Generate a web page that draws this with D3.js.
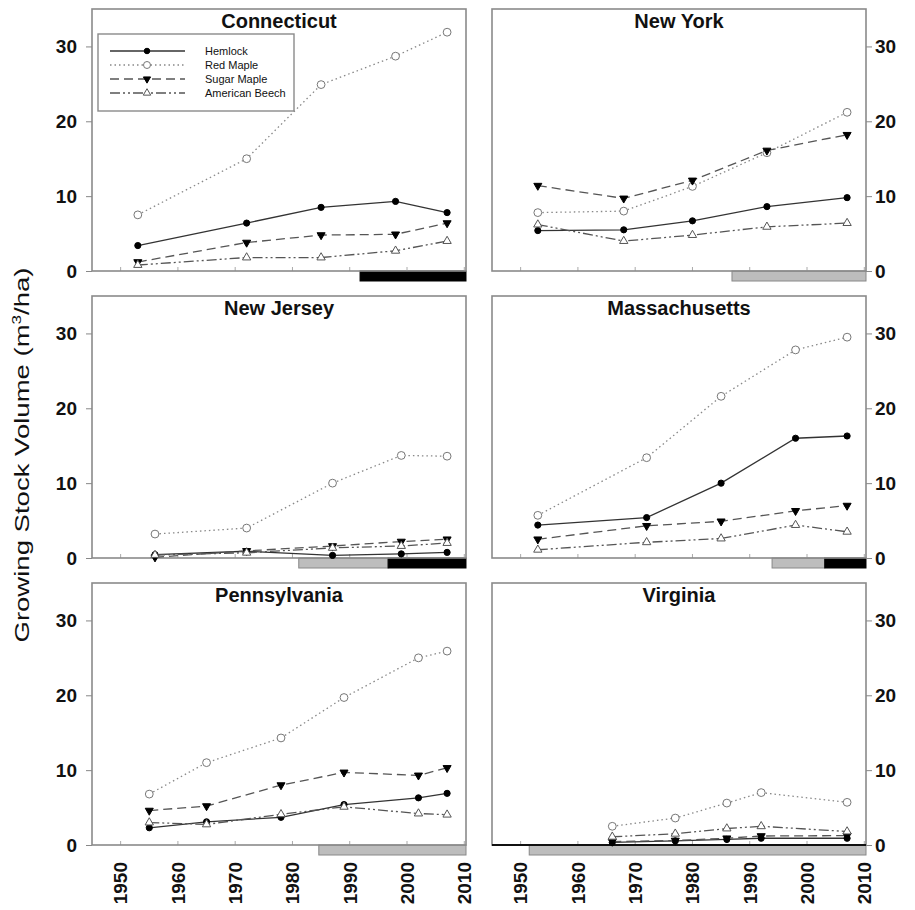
<!DOCTYPE html>
<html>
<head>
<meta charset="utf-8">
<script src="https://cdn.jsdelivr.net/npm/d3@7"></script>
<style>
  body { margin: 0; background: #fff; }
  text { font-family: "Liberation Sans", Arial, sans-serif; }
</style>
</head>
<body>
<div id="my_datavis"></div>
<script>
// data
var states = ["Connecticut", "New York", "New Jersey", "Massachusetts", "Pennsylvania", "Virginia"];
var species = ["Hemlock", "Red Maple", "Sugar Maple", "American Beech"];

var surveyYears = [
  [1953, 1972, 1985, 1998, 2007],
  [1953, 1968, 1980, 1993, 2007],
  [1956, 1972, 1987, 1999, 2007],
  [1953, 1972, 1985, 1998, 2007],
  [1955, 1965, 1978, 1989, 2002, 2007],
  [1966, 1977, 1986, 1992, 2007]
];
var hemlock = [
  [3.4, 6.4, 8.5, 9.3, 7.8],
  [5.4, 5.5, 6.7, 8.6, 9.8],
  [0.45, 0.9, 0.35, 0.55, 0.75],
  [4.4, 5.4, 10.0, 16.0, 16.3],
  [2.3, 3.1, 3.7, 5.4, 6.3, 6.9],
  [0.35, 0.55, 0.75, 0.9, 0.9]
];
var redMaple = [
  [7.5, 15.0, 24.9, 28.7, 31.9],
  [7.8, 8.0, 11.3, 15.8, 21.2],
  [3.2, 4.0, 10.0, 13.7, 13.6],
  [5.7, 13.4, 21.6, 27.8, 29.5],
  [6.8, 11.0, 14.3, 19.7, 25.0, 25.9],
  [2.5, 3.6, 5.6, 7.0, 5.7]
];
var sugarMaple = [
  [1.2, 3.8, 4.8, 4.9, 6.4],
  [11.4, 9.7, 12.1, 16.1, 18.2],
  [0.1, 0.95, 1.6, 2.2, 2.5],
  [2.5, 4.3, 4.9, 6.3, 7.0],
  [4.6, 5.2, 8.0, 9.7, 9.3, 10.3],
  [0.45, 0.6, 0.9, 1.2, 1.25]
];
var beech = [
  [0.8, 1.8, 1.8, 2.7, 4.0],
  [6.2, 4.0, 4.8, 5.9, 6.4],
  [0.4, 0.7, 1.35, 1.6, 2.0],
  [1.1, 2.1, 2.6, 4.4, 3.5],
  [3.0, 2.75, 4.1, 5.1, 4.2, 4.05],
  [1.1, 1.5, 2.2, 2.5, 1.8]
];
// shaded periods under each panel: [shade, start year, end year]
var periods = [
  [["black", 1991.8, 2010.3]],
  [["gray", 1986.9, 2010.3]],
  [["gray", 1981.1, 1996.7], ["black", 1996.7, 2010.3]],
  [["gray", 1993.9, 2003.1], ["black", 2003.1, 2010.3]],
  [["gray", 1984.6, 2010.3]],
  [["gray", 1951.5, 2010.3]]
];
var yTicks = [0, 10, 20, 30];
var xTicks = [1950, 1960, 1970, 1980, 1990, 2000, 2010];

var seriesValues = [hemlock, redMaple, sugarMaple, beech];

var width = 915, height = 910;
var pw = 374, ph = 262;
var colX = [92, 492], rowY = [9, 296, 583];

var svg = d3.select("#my_datavis")
  .append("svg")
  .attr("width", width)
  .attr("height", height);

var x = d3.scaleLinear().domain([1945, 2010.3]).range([0, pw]);
var y = d3.scaleLinear().domain([0, 35]).range([ph, 0]);

// line look for each species
var styles = [
  { stroke: "#333", dash: null, width: 1.3, symbol: d3.symbolCircle, size: 30, fill: "#000", mstroke: "#000" },
  { stroke: "#888", dash: "1.5,3", width: 1.3, symbol: d3.symbolCircle, size: 48, fill: "#fff", mstroke: "#777" },
  { stroke: "#555", dash: "9,5", width: 1.3, symbol: d3.symbolTriangle, size: 28, fill: "#000", mstroke: "#000", rot: 180 },
  { stroke: "#555", dash: "10,3,2,3,2,3", width: 1.3, symbol: d3.symbolTriangle, size: 30, fill: "#fff", mstroke: "#555" }
];

var line = d3.line()
  .x(function(d) { return x(d[0]); })
  .y(function(d) { return y(d[1]); });

states.forEach(function(state, i) {
  var col = i % 2, row = Math.floor(i / 2);
  var g = svg.append("g")
    .attr("transform", "translate(" + colX[col] + "," + rowY[row] + ")");

  // shaded period bars under the axis
  g.selectAll(".period")
    .data(periods[i])
    .enter()
    .append("rect")
    .attr("x", function(d) { return x(d[1]); })
    .attr("width", function(d) { return x(d[2]) - x(d[1]); })
    .attr("y", ph)
    .attr("height", 10)
    .attr("fill", function(d) { return d[0] == "black" ? "#000" : "#bdbdbd"; })
    .attr("stroke", function(d) { return d[0] == "black" ? "#000" : "#888"; })
    .attr("stroke-width", 1);

  // small ticks on the bottom edge
  g.selectAll(".xtick")
    .data(xTicks)
    .enter()
    .append("line")
    .attr("x1", function(d) { return x(d); })
    .attr("x2", function(d) { return x(d); })
    .attr("y1", ph)
    .attr("y2", ph - 4)
    .attr("stroke", "#aaa");

  // frame
  g.append("rect")
    .attr("width", pw)
    .attr("height", ph)
    .attr("fill", "none")
    .attr("stroke", "#8a8a8a")
    .attr("stroke-width", 1.6);

  if (state == "Virginia") {
    g.append("line")
      .attr("x1", 0).attr("x2", pw)
      .attr("y1", ph).attr("y2", ph)
      .attr("stroke", "#111")
      .attr("stroke-width", 1.8);
  }

  // y axis
  var yAxis = col == 0
    ? d3.axisLeft(y).tickValues(yTicks).tickSize(6).tickPadding(9)
    : d3.axisRight(y).tickValues(yTicks).tickSize(6).tickPadding(3);
  var ya = g.append("g")
    .attr("transform", "translate(" + (col == 0 ? 0 : pw) + ",0)")
    .call(yAxis);
  ya.select(".domain").remove();
  ya.selectAll(".tick line").attr("stroke", "#888");
  ya.selectAll(".tick text")
    .attr("font-size", 19)
    .attr("font-weight", "bold")
    .attr("fill", "#111")
    .style("font-family", "'Liberation Sans', Arial, sans-serif");

  // x labels on bottom row
  if (row == 2) {
    g.selectAll(".xlab")
      .data(xTicks)
      .enter()
      .append("text")
      .attr("transform", function(d) { return "translate(" + x(d) + "," + (ph + 17) + ") rotate(-90)"; })
      .attr("text-anchor", "end")
      .attr("dy", "0.36em")
      .attr("font-size", 19)
      .attr("font-weight", "bold")
      .attr("fill", "#111")
      .text(function(d) { return d; });
  }

  // title
  g.append("text")
    .attr("x", pw / 2)
    .attr("y", 19)
    .attr("text-anchor", "middle")
    .attr("font-size", 20)
    .attr("font-weight", "bold")
    .attr("fill", "#111")
    .text(state);

  // series
  seriesValues.forEach(function(vals, s) {
    var st = styles[s];
    var pts = surveyYears[i].map(function(yr, k) { return [yr, vals[i][k]]; });
    g.append("path")
      .datum(pts)
      .attr("d", line)
      .attr("fill", "none")
      .attr("stroke", st.stroke)
      .attr("stroke-width", st.width)
      .attr("stroke-dasharray", st.dash);
    g.selectAll(".m" + s)
      .data(pts)
      .enter()
      .append("path")
      .attr("d", d3.symbol().type(st.symbol).size(st.size))
      .attr("transform", function(d) {
        return "translate(" + x(d[0]) + "," + y(d[1]) + ")" + (st.rot ? " rotate(" + st.rot + ")" : "");
      })
      .attr("fill", st.fill)
      .attr("stroke", st.mstroke)
      .attr("stroke-width", 1);
  });

  // legend in first panel
  if (i == 0) {
    var lg = g.append("g").attr("transform", "translate(6,25)");
    lg.append("rect")
      .attr("width", 196)
      .attr("height", 77)
      .attr("fill", "#fff")
      .attr("stroke", "#8a8a8a")
      .attr("stroke-width", 1.4);
    species.forEach(function(name, s) {
      var st = styles[s];
      var ly = 17 + s * 14;
      lg.append("line")
        .attr("x1", 12).attr("x2", 87)
        .attr("y1", ly).attr("y2", ly)
        .attr("stroke", st.stroke)
        .attr("stroke-width", st.width)
        .attr("stroke-dasharray", st.dash);
      lg.append("path")
        .attr("d", d3.symbol().type(st.symbol).size(st.size * 0.8))
        .attr("transform", "translate(49," + ly + ")" + (st.rot ? " rotate(" + st.rot + ")" : ""))
        .attr("fill", st.fill)
        .attr("stroke", st.mstroke);
      lg.append("text")
        .attr("x", 107)
        .attr("y", ly + 4)
        .attr("font-size", 11)
        .attr("fill", "#111")
        .text(name);
    });
  }
});

// shared y axis title
var yt = svg.append("text")
  .attr("transform", "translate(29,455) rotate(-90)")
  .attr("text-anchor", "middle")
  .attr("font-size", 21)
  .attr("fill", "#111")
  .attr("textLength", 375)
  .attr("lengthAdjust", "spacingAndGlyphs");
yt.append("tspan").text("Growing Stock Volume (m");
yt.append("tspan").attr("dy", -8).attr("font-size", 13).text("3");
yt.append("tspan").attr("dy", 8).text("/ha)");
</script>
</body>
</html>
